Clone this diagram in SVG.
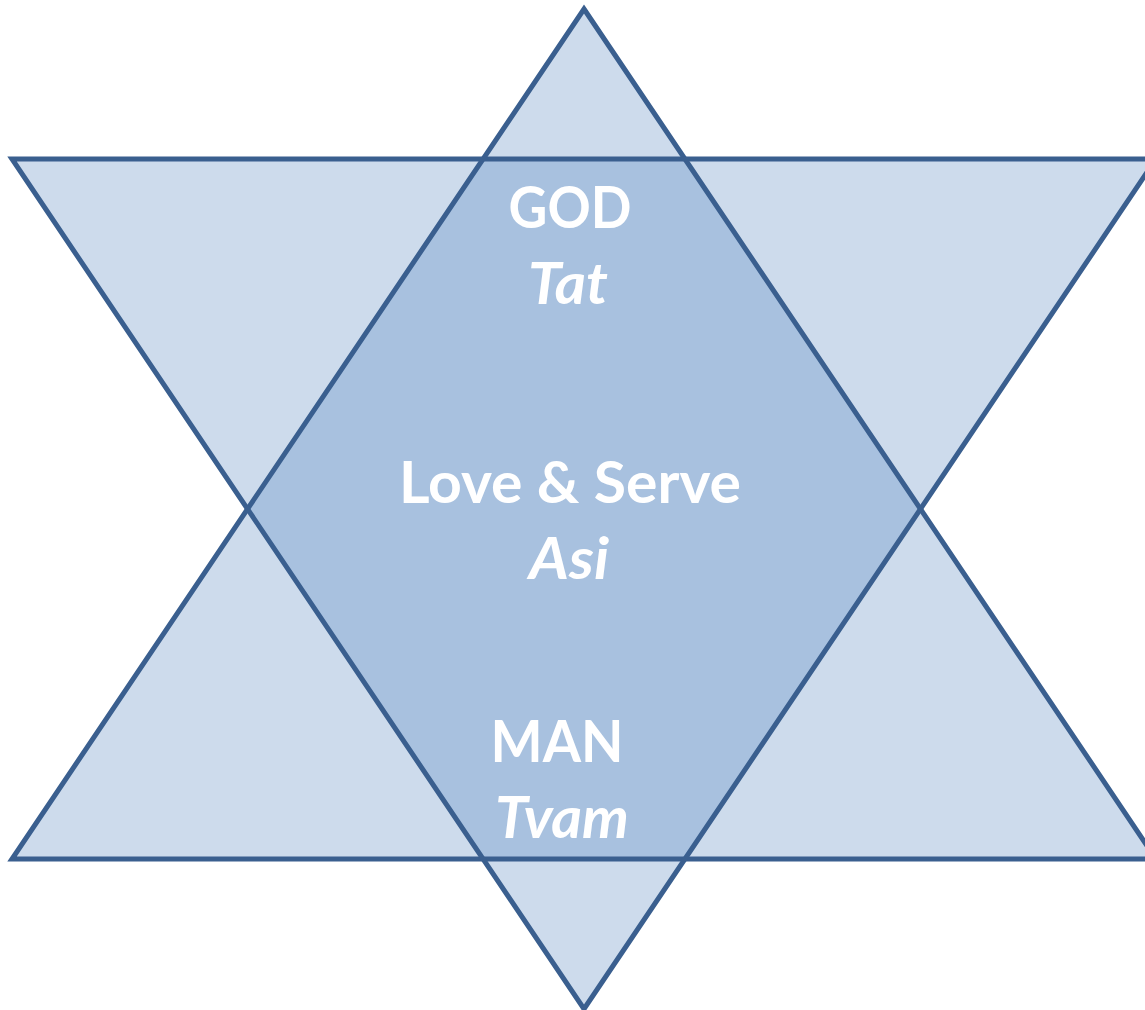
<svg xmlns="http://www.w3.org/2000/svg" width="1145" height="1010" viewBox="0 0 1145 1010">
<style>
.tri{fill:#CDDBEC;stroke:none}
.hex{fill:#A8C1DF;stroke:none}
.edge{fill:none;stroke:#3A5F8F;stroke-width:5;stroke-linejoin:miter}
.lbl{font-family:Lato,"Open Sans","Liberation Sans",sans-serif;font-weight:bold;font-size:58px;fill:#FFFFFF;text-anchor:middle}
.it{font-style:italic}
</style>
<rect width="1145" height="1010" fill="#FFFFFF"/>
<g id="up-triangle"><polygon class="tri" points="584,9 1156,859 12,859"/></g>
<g id="down-triangle"><polygon class="tri" points="12,159 1156,159 584,1009"/></g>
<g id="overlap"><polygon class="hex" points="483,159 685,159 920,509 685,859 483,859 248,509"/></g>
<g id="connectors">
<polygon class="edge" points="584,9 1156,859 12,859"/>
<polygon class="edge" points="12,159 1156,159 584,1009"/>
</g>
<g id="god"><text class="lbl" x="570" y="228" textLength="123" lengthAdjust="spacingAndGlyphs">GOD</text><text class="lbl it" x="568" y="304" textLength="80" lengthAdjust="spacingAndGlyphs">Tat</text></g>
<g id="love"><text class="lbl" x="570" y="503" textLength="342" lengthAdjust="spacingAndGlyphs">Love &amp; Serve</text><text class="lbl it" x="569" y="579" textLength="80" lengthAdjust="spacingAndGlyphs">Asi</text></g>
<g id="man"><text class="lbl" x="557" y="762" textLength="133" lengthAdjust="spacingAndGlyphs">MAN</text><text class="lbl it" x="562" y="838" textLength="134" lengthAdjust="spacingAndGlyphs">Tvam</text></g>
</svg>
